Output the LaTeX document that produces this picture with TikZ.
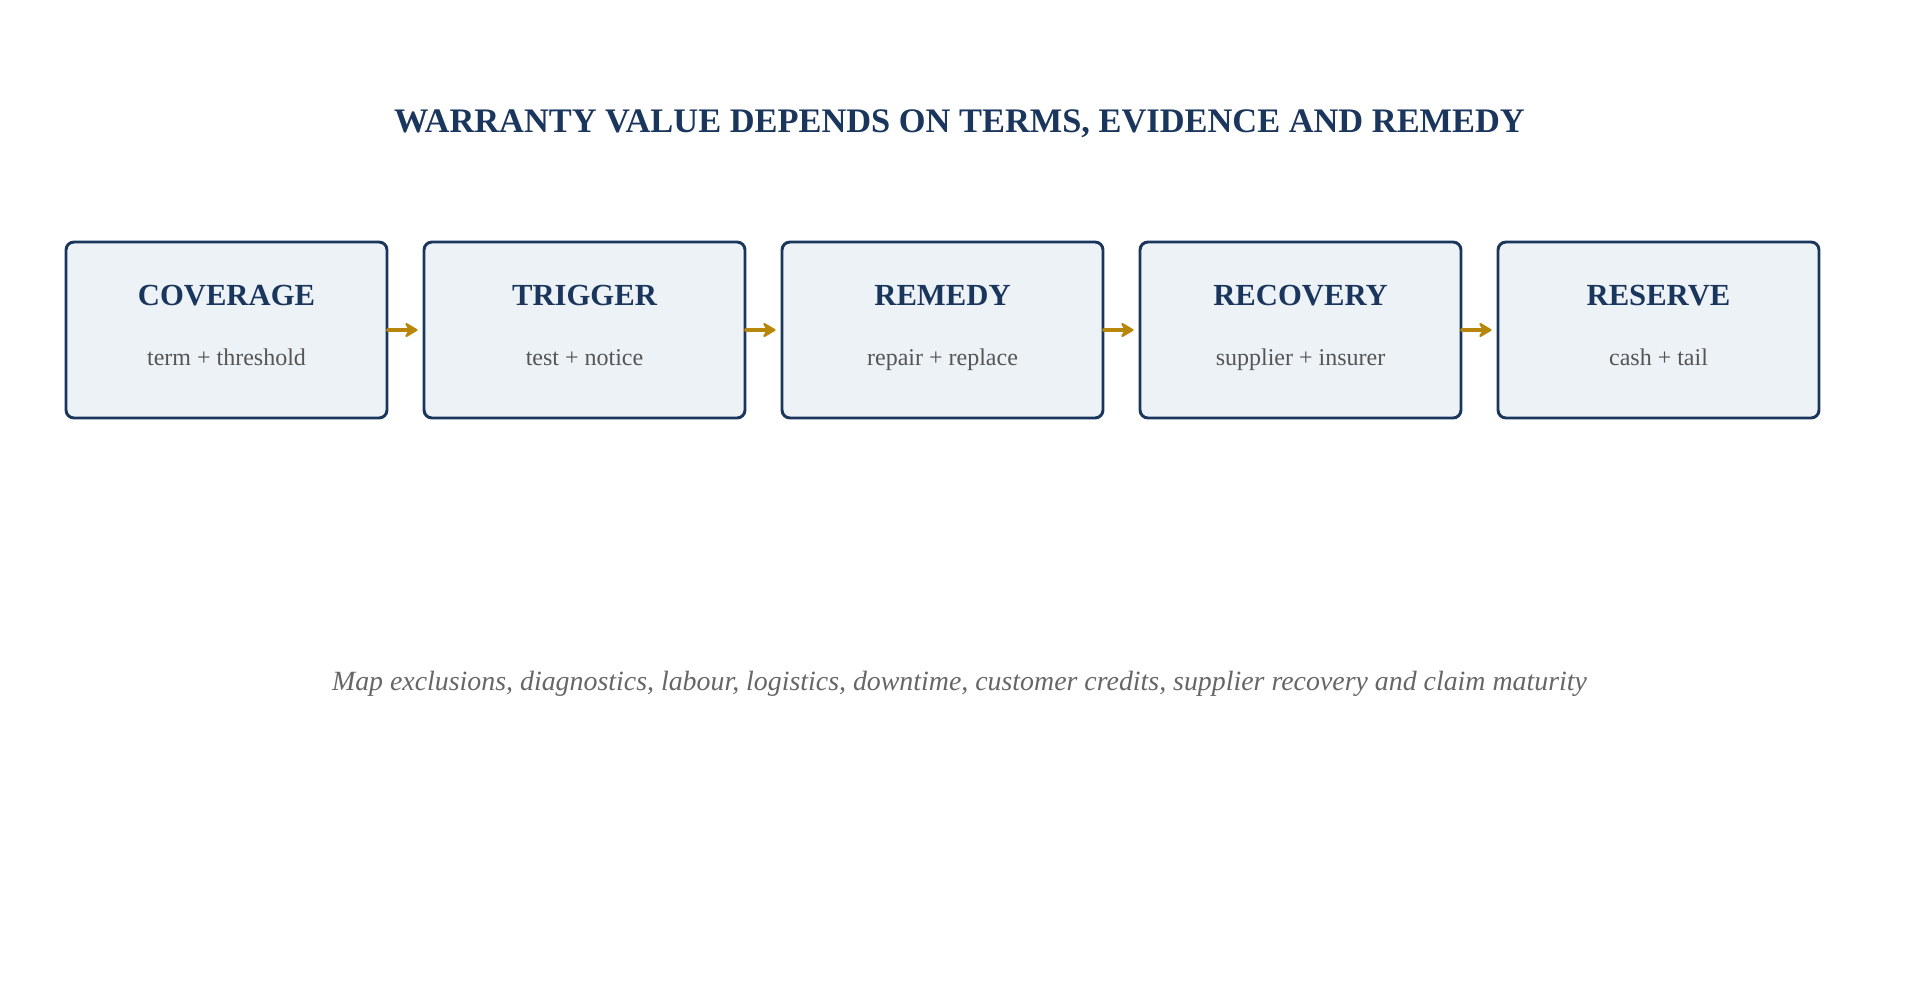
\documentclass[tikz,border=0pt]{standalone}
\usepackage{fontspec}
\setmainfont{Liberation Serif}
\usetikzlibrary{arrows.meta}
\definecolor{navy}{HTML}{1B365D}
\definecolor{boxfill}{HTML}{EDF2F7}
\definecolor{gold}{HTML}{B8860B}
\definecolor{subgray}{HTML}{555555}
\definecolor{footgray}{HTML}{666666}
\tikzset{
  stagebox/.style={draw=navy, fill=boxfill, line width=2.2pt, rounded corners=6pt,
    minimum width=321*0.75pt, minimum height=176*0.75pt, inner sep=0pt},
  stagetitle/.style={anchor=base, text=navy, font=\fontsize{23}{27}\selectfont\bfseries},
  stagesub/.style={anchor=base, text=subgray, font=\fontsize{18}{22}\selectfont},
  flowarrow/.style={draw=gold, fill=gold, line width=3.4pt, line cap=round,
    -{Stealth[round, length=11pt, width=13pt, inset=3.5pt, line width=1.5pt]}, shorten >=5*0.75pt},
}
\begin{document}
\begin{tikzpicture}[x=0.75pt, y=-0.75pt]
\useasboundingbox (0,0) rectangle (1919,992);
\node[anchor=base, text=navy, font=\fontsize{25.8}{30}\selectfont\bfseries] (title) at (959.5,132)
  {WARRANTY VALUE DEPENDS ON TERMS, EVIDENCE AND REMEDY};
\foreach \i/\name/\t/\s in {0/b1/COVERAGE/term + threshold, 1/b2/TRIGGER/test + notice,
   2/b3/REMEDY/repair + replace, 3/b4/RECOVERY/supplier + insurer, 4/b5/RESERVE/cash + tail}{
  \node[stagebox] (\name) at (226.5+358*\i,330) {};
  \node[stagetitle] (\name t) at (226.5+358*\i,305) {\t};
  \node[stagesub] (\name s) at (226.5+358*\i,365) {\s};
}
\draw[flowarrow] (b1.east) -- (b2.west);
\draw[flowarrow] (b2.east) -- (b3.west);
\draw[flowarrow] (b3.east) -- (b4.west);
\draw[flowarrow] (b4.east) -- (b5.west);
\node[anchor=base, text=footgray, font=\fontsize{20.9}{25}\selectfont\itshape] (foot) at (959.5,690)
  {Map exclusions, diagnostics, labour, logistics, downtime, customer credits, supplier recovery and claim maturity};
\end{tikzpicture}
\end{document}
